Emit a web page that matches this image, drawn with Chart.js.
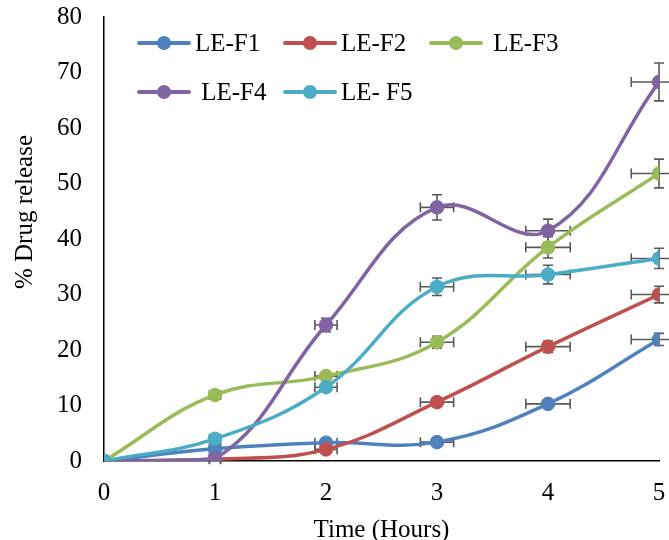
<!DOCTYPE html>
<html>
<head>
<meta charset="utf-8">
<script src="https://cdn.jsdelivr.net/npm/chart.js@4"></script>
<style>
  body { margin: 0; background: #fff; }
  #wrap { position: relative; width: 669px; height: 540px; overflow: hidden; }
  #legend {
    position: absolute; left: 137px; top: 18px; width: 440px;
    display: flex; flex-wrap: wrap;
    font-family: 'Liberation Serif', 'Times New Roman', serif; font-size: 25px; color: #000;
  }
  .item { display: flex; align-items: center; width: 146px; height: 49px; white-space: pre; }
  .sym { position: relative; width: 54px; height: 14px; margin-right: 4px; flex: none; }
  .sym .ln { position: absolute; left: 0; right: 0; top: 5px; height: 4px; border-radius: 2px; }
  .sym .dot { position: absolute; left: 20px; top: 0; width: 14px; height: 14px; border-radius: 50%; }
</style>
</head>
<body>
<div id="wrap">
  <canvas id="releaseChart" width="669" height="540"></canvas>
  <div id="legend"></div>
</div>
<script>
// time points (hours)
const hours = [0, 1, 2, 3, 4, 5];

// % drug release
const leF1 = [0, 2.2, 3.3, 3.4, 10.3, 21.9];
const leF2 = [0, 0.3, 2.1, 10.6, 20.6, 30.0];
const leF3 = [0, 11.9, 15.3, 21.4, 38.5, 51.8];
const leF4 = [0, 0.4, 24.5, 45.7, 41.5, 68.3];
const leF5 = [0, 4.0, 13.3, 31.4, 33.6, 36.5];

const seriesNames = ['LE-F1', 'LE-F2', ' LE-F3', ' LE-F4', 'LE- F5'];
const seriesValues = [leF1, leF2, leF3, leF4, leF5];
const colors = ['#4F81BD', '#C0504D', '#9BBB59', '#8064A2', '#4BACC6'];

const yTicks = [0, 10, 20, 30, 40, 50, 60, 70, 80];
const errPct = 0.05; // percentage error bars, both directions

const FONT = "'Liberation Serif', 'Times New Roman', serif";

// error bars drawn under the lines and markers
const errorBars = {
  id: 'errorBars',
  beforeDatasetsDraw(chart) {
    const { ctx, scales: { x, y } } = chart;
    ctx.save();
    ctx.strokeStyle = '#595959';
    ctx.lineWidth = 1.6;
    chart.data.datasets.forEach(ds => {
      ds.data.forEach(p => {
        const cx = x.getPixelForValue(p.x), cy = y.getPixelForValue(p.y);
        const xl = x.getPixelForValue(p.x * (1 - errPct));
        const xr = x.getPixelForValue(p.x * (1 + errPct));
        const yt = y.getPixelForValue(p.y * (1 + errPct));
        const yb = y.getPixelForValue(p.y * (1 - errPct));
        const cap = 5;
        ctx.beginPath();
        if (xr - xl > 0.5) {
          ctx.moveTo(xl, cy); ctx.lineTo(xr, cy);
          ctx.moveTo(xl, cy - cap); ctx.lineTo(xl, cy + cap);
          ctx.moveTo(xr, cy - cap); ctx.lineTo(xr, cy + cap);
        }
        if (yb - yt > 0.5) {
          ctx.moveTo(cx, yt); ctx.lineTo(cx, yb);
          ctx.moveTo(cx - cap, yt); ctx.lineTo(cx + cap, yt);
          ctx.moveTo(cx - cap, yb); ctx.lineTo(cx + cap, yb);
        }
        ctx.stroke();
      });
    });
    ctx.restore();
  }
};

// axis titles (y title sits above the plot centre, as in the original)
const axisTitles = {
  id: 'axisTitles',
  afterDraw(chart) {
    const { ctx, chartArea } = chart;
    ctx.save();
    ctx.fillStyle = '#000';
    ctx.font = '25px ' + FONT;
    ctx.textAlign = 'center';
    ctx.textBaseline = 'middle';
    ctx.fillText('Time (Hours)', (chartArea.left + chartArea.right) / 2, 530);
    ctx.translate(25, 212);
    ctx.rotate(-Math.PI / 2);
    ctx.fillText('% Drug release', 0, 0);
    ctx.restore();
  }
};

const datasets = seriesValues.map((vals, i) => ({
  label: seriesNames[i],
  data: hours.map((h, j) => ({ x: h, y: vals[j] })),
  borderColor: colors[i],
  backgroundColor: colors[i],
  pointBackgroundColor: colors[i],
  pointBorderColor: colors[i],
  borderWidth: 3.5,
  pointRadius: 6.8,
  pointBorderWidth: 1,
  tension: 0.4,
  order: seriesValues.length - 1 - i
}));

new Chart(document.getElementById('releaseChart'), {
  type: 'line',
  data: { datasets },
  options: {
    responsive: false,
    animation: false,
    layout: { padding: 0 },
    plugins: { legend: { display: false }, tooltip: { enabled: false } },
    scales: {
      x: {
        type: 'linear', min: 0, max: 5,
        afterFit: s => { s.height = 79; s.paddingLeft = 0; s.paddingRight = 10; },
        grid: { display: false, drawTicks: false },
        border: { color: '#000', width: 1.5 },
        ticks: { stepSize: 1, padding: 17, color: '#000', font: { family: FONT, size: 25 } }
      },
      y: {
        min: 0, max: 80,
        afterFit: s => { s.width = 104; s.paddingTop = 17; s.paddingBottom = 0; },
        afterBuildTicks: s => { s.ticks = yTicks.map(v => ({ value: v })); },
        grid: { display: false, drawTicks: false },
        border: { color: '#000', width: 1.5 },
        ticks: { padding: 22, color: '#000', font: { family: FONT, size: 25 } }
      }
    }
  },
  plugins: [errorBars, axisTitles]
});

// legend: line + marker symbol, two rows like the original
const legendEl = document.getElementById('legend');
seriesNames.forEach((name, i) => {
  const item = document.createElement('div');
  item.className = 'item';
  item.innerHTML = `<span class="sym"><span class="ln" style="background:${colors[i]}"></span>` +
    `<span class="dot" style="background:${colors[i]}"></span></span><span>${name}</span>`;
  legendEl.appendChild(item);
});
</script>
</body>
</html>
